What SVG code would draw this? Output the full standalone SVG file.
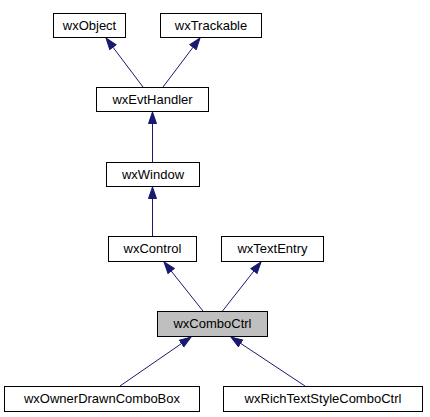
<svg xmlns="http://www.w3.org/2000/svg" width="430" height="417" viewBox="0 0 430 417">
<style>
.n rect{fill:#ffffff;stroke:#000000;stroke-width:1}
.n.cur rect{fill:#bfbfbf}
.n text{font-family:"Liberation Sans",Arial,sans-serif;font-size:13px;fill:#000000;text-anchor:middle}
.e{stroke:#191970;stroke-width:1;fill:none;marker-end:url(#arr)}
</style>
<defs>
<marker id="arr" markerUnits="userSpaceOnUse" markerWidth="13" markerHeight="10" refX="12" refY="4.5" orient="auto">
<path d="M0.5,0.5 L12,4.5 L0.5,8.5 z" fill="#191970" stroke="#191970" stroke-width="1"/>
</marker>
</defs>
<rect width="430" height="417" fill="#ffffff"/>
<g id="edges">
<line class="e" x1="143" y1="87" x2="106" y2="38"/>
<line class="e" x1="163" y1="87" x2="200" y2="38"/>
<line class="e" x1="152.5" y1="162" x2="152.5" y2="112"/>
<line class="e" x1="152.5" y1="236" x2="152.5" y2="187"/>
<line class="e" x1="203" y1="311" x2="164" y2="262"/>
<line class="e" x1="222.5" y1="311" x2="261" y2="262"/>
<line class="e" x1="120" y1="386" x2="191" y2="337"/>
<line class="e" x1="305" y1="386" x2="231" y2="337"/>
</g>
<g id="wxObject" class="n"><rect x="53.5" y="13.5" width="72" height="24"/><text x="89.5" y="30">wxObject</text></g>
<g id="wxTrackable" class="n"><rect x="160.5" y="13.5" width="101" height="24"/><text x="211" y="30">wxTrackable</text></g>
<g id="wxEvtHandler" class="n"><rect x="96.5" y="87.5" width="112" height="24"/><text x="152.5" y="104">wxEvtHandler</text></g>
<g id="wxWindow" class="n"><rect x="106.5" y="162.5" width="93" height="24"/><text x="153" y="179">wxWindow</text></g>
<g id="wxControl" class="n"><rect x="108.5" y="236.5" width="88" height="25"/><text x="152.5" y="253">wxControl</text></g>
<g id="wxTextEntry" class="n"><rect x="221.5" y="236.5" width="102" height="25"/><text x="272.5" y="253">wxTextEntry</text></g>
<g id="wxComboCtrl" class="n cur"><rect x="157.5" y="311.5" width="110" height="25"/><text x="212.5" y="328">wxComboCtrl</text></g>
<g id="wxOwnerDrawnComboBox" class="n"><rect x="4.5" y="386.5" width="195" height="25"/><text x="102" y="403">wxOwnerDrawnComboBox</text></g>
<g id="wxRichTextStyleComboCtrl" class="n"><rect x="223.5" y="386.5" width="199" height="25"/><text x="323" y="403">wxRichTextStyleComboCtrl</text></g>
</svg>
